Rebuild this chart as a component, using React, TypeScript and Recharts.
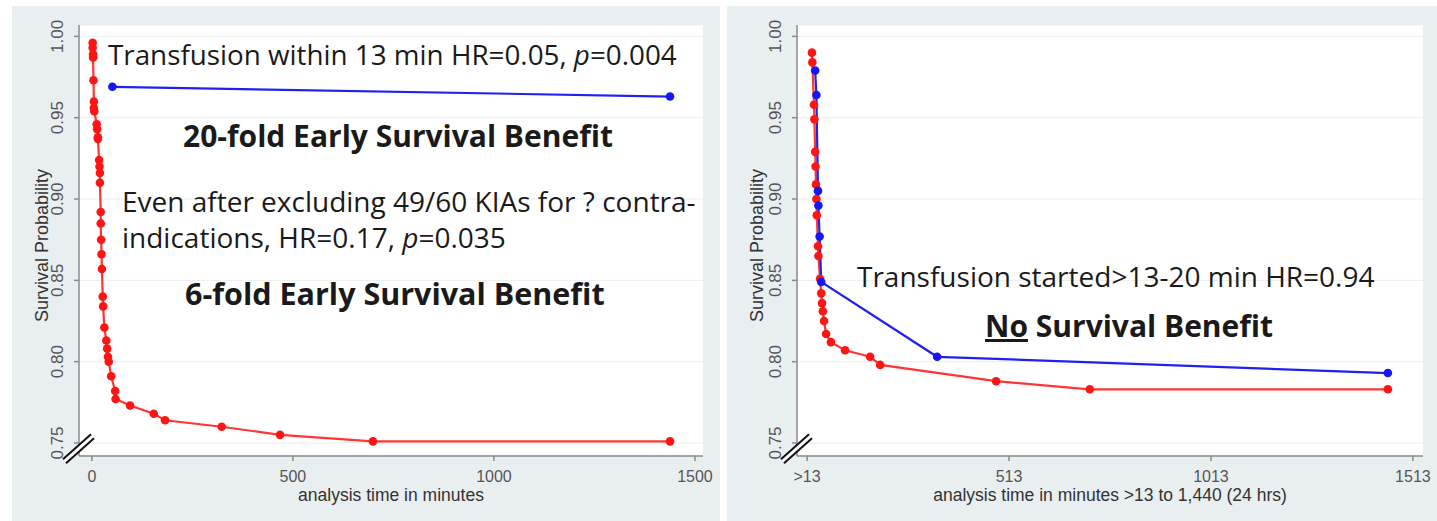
import React from 'react';
import {
  LineChart,
  Line,
  XAxis,
  YAxis,
  CartesianGrid,
  ReferenceDot
} from 'recharts';

// left panel: transfusion within 13 min (red = no transfusion, blue = transfused)
const leftRed = [
  { t: 2, v: 0.996 }, { t: 2, v: 0.993 }, { t: 3, v: 0.989 }, { t: 3, v: 0.987 },
  { t: 4, v: 0.973 }, { t: 5, v: 0.960 }, { t: 5, v: 0.956 }, { t: 6, v: 0.954 },
  { t: 12, v: 0.946 }, { t: 13, v: 0.943 }, { t: 15, v: 0.938 }, { t: 15, v: 0.937 },
  { t: 18, v: 0.924 }, { t: 19, v: 0.920 }, { t: 20, v: 0.916 }, { t: 20, v: 0.910 },
  { t: 22, v: 0.892 }, { t: 22, v: 0.885 }, { t: 23, v: 0.875 }, { t: 24, v: 0.866 },
  { t: 25, v: 0.857 }, { t: 27, v: 0.840 }, { t: 28, v: 0.834 }, { t: 31, v: 0.821 },
  { t: 36, v: 0.813 }, { t: 38, v: 0.808 }, { t: 40, v: 0.803 }, { t: 42, v: 0.800 },
  { t: 48, v: 0.791 }, { t: 58, v: 0.782 }, { t: 59, v: 0.777 }, { t: 95, v: 0.773 },
  { t: 154, v: 0.768 }, { t: 182, v: 0.764 }, { t: 323, v: 0.760 }, { t: 468, v: 0.755 },
  { t: 699, v: 0.751 }, { t: 1438, v: 0.751 }
];
const leftBlue = [
  { t: 51, v: 0.969 }, { t: 1438, v: 0.963 }
];

// right panel: transfusion started >13-20 min
const rightRed = [
  { t: 25, v: 0.990 }, { t: 26, v: 0.984 }, { t: 30, v: 0.958 }, { t: 31, v: 0.949 },
  { t: 33, v: 0.929 }, { t: 34, v: 0.920 }, { t: 35, v: 0.909 }, { t: 36, v: 0.900 },
  { t: 37, v: 0.890 }, { t: 40, v: 0.871 }, { t: 41, v: 0.865 }, { t: 45, v: 0.851 },
  { t: 48, v: 0.842 }, { t: 50, v: 0.836 }, { t: 52, v: 0.831 }, { t: 55, v: 0.825 },
  { t: 60, v: 0.817 }, { t: 72, v: 0.812 }, { t: 107, v: 0.807 }, { t: 169, v: 0.803 },
  { t: 194, v: 0.798 }, { t: 481, v: 0.788 }, { t: 713, v: 0.783 }, { t: 1451, v: 0.783 }
];
const rightBlue = [
  { t: 33, v: 0.979 }, { t: 36, v: 0.964 }, { t: 40, v: 0.905 }, { t: 41, v: 0.896 },
  { t: 44, v: 0.877 }, { t: 48, v: 0.849 }, { t: 335, v: 0.803 }, { t: 1451, v: 0.793 }
];

const yTicks = [0.75, 0.8, 0.85, 0.9, 0.95, 1.0];
const leftXTicks = [0, 500, 1000, 1500];
const rightXTicks = [13, 513, 1013, 1513];

const RED = '#ff1414';
const BLUE = '#1515f5';
const AXIS = '#8a8a8a';
const TICK_TEXT = '#555';
const PANEL_BG = '#e9eef1';
const TEXT_FONT = '"Open Sans", "Noto Sans", sans-serif';
const AXIS_FONT = '"Liberation Sans", Arial, sans-serif';

const YTick = (props: any) => {
  const { x, y, payload } = props;
  const bx = x - 9;
  return (
    <text
      x={bx}
      y={y}
      textAnchor="middle"
      transform={`rotate(-90, ${bx}, ${y})`}
      fontSize={17}
      fontFamily={AXIS_FONT}
      fill={TICK_TEXT}
    >
      {payload.value.toFixed(2)}
    </text>
  );
};

const makeXTick = (fmt: (v: number) => string) => (props: any) => {
  const { x, y, payload } = props;
  return (
    <text x={x} y={y + 19} textAnchor="middle" fontSize={16} fontFamily={AXIS_FONT} fill={TICK_TEXT}>
      {fmt(payload.value)}
    </text>
  );
};

const BreakMark = (props: any) => {
  const { cx, cy } = props;
  return (
    <g>
      <polygon
        points={`${cx - 16},${cy + 13} ${cx + 12},${cy - 12} ${cx + 15},${cy - 8} ${cx - 13},${cy + 17}`}
        fill="#fff"
      />
      <line x1={cx - 16} y1={cy + 13} x2={cx + 12} y2={cy - 12} stroke="#111" strokeWidth={2} />
      <line x1={cx - 13} y1={cy + 17} x2={cx + 15} y2={cy - 8} stroke="#111" strokeWidth={2} />
    </g>
  );
};

interface PanelProps {
  red: { t: number; v: number }[];
  blue: { t: number; v: number }[];
  xDomain: [number, number];
  xTicks: number[];
  xFmt: (v: number) => string;
  xTitle: string;
  width: number;
  yAxisWidth: number;
  right: number;
}

const Panel: React.FC<PanelProps> = ({ red, blue, xDomain, xTicks, xFmt, xTitle, width, yAxisWidth, right }) => (
  <LineChart width={width} height={515} margin={{ top: 19, right, left: 0, bottom: 0 }}>
    <CartesianGrid horizontal vertical={false} stroke="#ededed" fill="#ffffff" />
    <XAxis
      type="number"
      dataKey="t"
      domain={xDomain}
      ticks={xTicks}
      allowDataOverflow
      height={65}
      stroke={AXIS}
      strokeWidth={1.5}
      tickSize={5}
      tick={makeXTick(xFmt)}
      label={{
        content: ({ viewBox }: any) => (
          <text
            x={viewBox.x + viewBox.width / 2}
            y={viewBox.y + 45}
            textAnchor="middle"
            fontSize={17.5}
            fontFamily={AXIS_FONT}
            fill="#333"
          >
            {xTitle}
          </text>
        )
      }}
    />
    <YAxis
      type="number"
      domain={[0.742, 1.007]}
      ticks={yTicks}
      allowDataOverflow
      width={yAxisWidth}
      stroke={AXIS}
      strokeWidth={1.5}
      tickSize={5}
      tick={<YTick />}
      label={{
        content: ({ viewBox }: any) => {
          const lx = 36;
          const ly = viewBox.y + viewBox.height / 2 + 5;
          return (
            <text
              x={lx}
              y={ly}
              textAnchor="middle"
              transform={`rotate(-90, ${lx}, ${ly})`}
              fontSize={18}
              fontFamily={AXIS_FONT}
              fill="#333"
            >
              Survival Probability
            </text>
          );
        }
      }}
    />
    <Line
      data={red}
      dataKey="v"
      type="linear"
      stroke="#ff3535"
      strokeWidth={2.2}
      dot={{ r: 4.3, fill: RED, stroke: RED, strokeWidth: 0 }}
      activeDot={false}
      isAnimationActive={false}
    />
    <Line
      data={blue}
      dataKey="v"
      type="linear"
      stroke="#2020f0"
      strokeWidth={2.2}
      dot={{ r: 4.3, fill: BLUE, stroke: BLUE, strokeWidth: 0 }}
      activeDot={false}
      isAnimationActive={false}
    />
    <ReferenceDot x={xDomain[0]} y={0.748} ifOverflow="visible" shape={<BreakMark />} />
  </LineChart>
);

export default function App() {
  const txt = { fontFamily: TEXT_FONT, fill: '#1a1a1a' };
  return (
    <div style={{ position: 'absolute', left: 0, top: 0, width: 1437, height: 521, background: '#fff', overflow: 'hidden' }}>
      <div style={{ position: 'absolute', left: 12, top: 6, width: 708, height: 515, background: PANEL_BG }}>
        <Panel
          red={leftRed}
          blue={leftBlue}
          xDomain={[-32, 1520]}
          xTicks={leftXTicks}
          xFmt={(v) => String(v)}
          xTitle="analysis time in minutes"
          width={708}
          yAxisWidth={67}
          right={17}
        />
      </div>
      <div style={{ position: 'absolute', left: 727, top: 6, width: 710, height: 515, background: PANEL_BG }}>
        <Panel
          red={rightRed}
          blue={rightBlue}
          xDomain={[-12, 1538]}
          xTicks={rightXTicks}
          xFmt={(v) => (v === 13 ? '>13' : String(v))}
          xTitle="analysis time in minutes >13 to 1,440 (24 hrs)"
          width={710}
          yAxisWidth={70}
          right={14}
        />
      </div>
      <svg width={1437} height={521} style={{ position: 'absolute', left: 0, top: 0, pointerEvents: 'none' }}>
        <text x={108} y={65} fontSize={27.8} {...txt}>
          Transfusion within 13 min HR=0.05, <tspan fontStyle="italic">p</tspan>=0.004
        </text>
        <text x={183} y={147} fontSize={30} fontWeight={700} {...txt}>
          20-fold Early Survival Benefit
        </text>
        <text x={122} y={212} fontSize={28} {...txt}>
          Even after excluding 49/60 KIAs for ? contra-
        </text>
        <text x={122} y={248} fontSize={28} {...txt}>
          indications, HR=0.17, <tspan fontStyle="italic">p</tspan>=0.035
        </text>
        <text x={185} y={305} fontSize={30.5} fontWeight={700} {...txt}>
          6-fold Early Survival Benefit
        </text>
        <text x={857} y={287} fontSize={28} {...txt}>
          Transfusion started&gt;13-20 min HR=0.94
        </text>
        <text x={985} y={337} fontSize={30} fontWeight={700} {...txt}>
          <tspan textDecoration="underline">No</tspan> Survival Benefit
        </text>
      </svg>
    </div>
  );
}
